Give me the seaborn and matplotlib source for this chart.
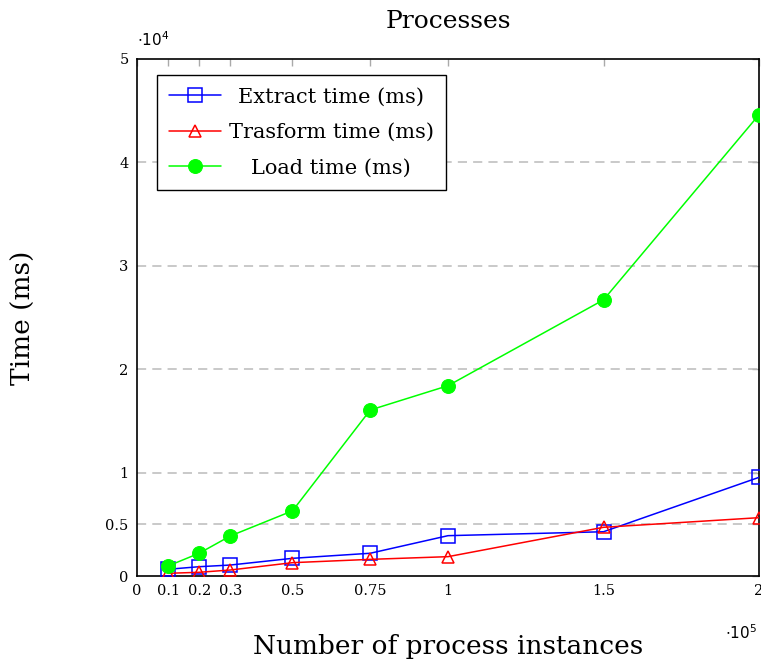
import matplotlib
matplotlib.use("Agg")
import matplotlib.pyplot as plt
import seaborn as sns
import pandas as pd
import numpy as np

# data (instances, time in ms)
instances = [10000, 20000, 30000, 50000, 75000, 100000, 150000, 200000]
extract_ms = [650, 900, 1060, 1710, 2200, 3900, 4280, 9540]
transform_ms = [260, 360, 580, 1290, 1610, 1870, 4710, 5640]
load_ms = [970, 2200, 3870, 6300, 16050, 18400, 26700, 44600]

xtick_vals = [0, 0.1, 0.2, 0.3, 0.5, 0.75, 1, 1.5, 2]
xtick_labels = ["0", "0.1", "0.2", "0.3", "0.5", "0.75", "1", "1.5", "2"]
ytick_vals = [0, 0.5, 1, 2, 3, 4, 5]
ytick_labels = ["0", "0.5", "1", "2", "3", "4", "5"]

df = pd.DataFrame({
    "x": np.array(instances) / 1e5,
    "Extract time (ms)": np.array(extract_ms) / 1e4,
    "Trasform time (ms)": np.array(transform_ms) / 1e4,
    "Load time (ms)": np.array(load_ms) / 1e4,
})

sns.set_theme(style="white")
plt.rcParams["font.family"] = ["DejaVu Serif"]
plt.rcParams["text.color"] = "black"
plt.rcParams["axes.labelcolor"] = "black"

fig = plt.figure(figsize=(7.61, 6.69), dpi=100)
ax = fig.add_axes([0.180, 0.139, 0.8174, 0.773])

sns.lineplot(data=df, x="x", y="Extract time (ms)", ax=ax, color="#0000ff", lw=1.1,
             marker="s", markersize=10, markerfacecolor="none", markeredgecolor="#0000ff",
             markeredgewidth=1.1, label="Extract time (ms)", zorder=3)
sns.lineplot(data=df, x="x", y="Trasform time (ms)", ax=ax, color="#ff0000", lw=1.1,
             marker="^", markersize=9, markerfacecolor="none", markeredgecolor="#ff0000",
             markeredgewidth=1.1, label="Trasform time (ms)", zorder=3)
sns.lineplot(data=df, x="x", y="Load time (ms)", ax=ax, color="#00ff00", lw=1.1,
             marker="o", markersize=10, markerfacecolor="#00ff00", markeredgecolor="#00ff00",
             label="Load time (ms)", zorder=3)

ax.set_xlim(0, 2)
ax.set_ylim(0, 5)
ax.set_xticks(xtick_vals)
ax.set_xticklabels(xtick_labels)
ax.set_yticks(ytick_vals)
ax.set_yticklabels(ytick_labels)
ax.tick_params(axis="both", direction="in", length=5, width=1, color="#aaaaaa",
               labelcolor="black", labelsize=10.5, top=True, right=True, pad=6)
for sp in ax.spines.values():
    sp.set_color("black")
    sp.set_linewidth(1.2)

for yv in [0.5, 1, 2, 3, 4]:
    ax.axhline(yv, color="#bbbbbb", lw=1.1, ls=(0, (6, 4)), zorder=1)

ax.set_xlabel("Number of process instances", fontsize=19, labelpad=26)
ax.set_ylabel("Time (ms)", fontsize=19, labelpad=50)
ax.set_title("Processes", fontsize=18, pad=22)

ax.text(0.0, 1.02, r"$\cdot10^4$", transform=ax.transAxes, fontsize=11, ha="left", va="bottom")
ax.text(0.997, -0.092, r"$\cdot10^5$", transform=ax.transAxes, fontsize=11, ha="right", va="top")

leg = ax.legend(loc="upper left", bbox_to_anchor=(0.032, 0.969), borderaxespad=0, fontsize=15,
                frameon=True, fancybox=False, edgecolor="black", framealpha=1,
                handlelength=2.5, borderpad=0.6, labelspacing=0.8, handletextpad=0.35)
leg.get_frame().set_linewidth(1.0)

# center legend labels like pgfplots does
fig.canvas.draw()
r = fig.canvas.get_renderer()
widths = [t.get_window_extent(r).width for t in leg.get_texts()]
for t, w in zip(leg.get_texts(), widths):
    t.set_x((max(widths) - w) / 2)

fig.savefig("out.png", dpi=100)
